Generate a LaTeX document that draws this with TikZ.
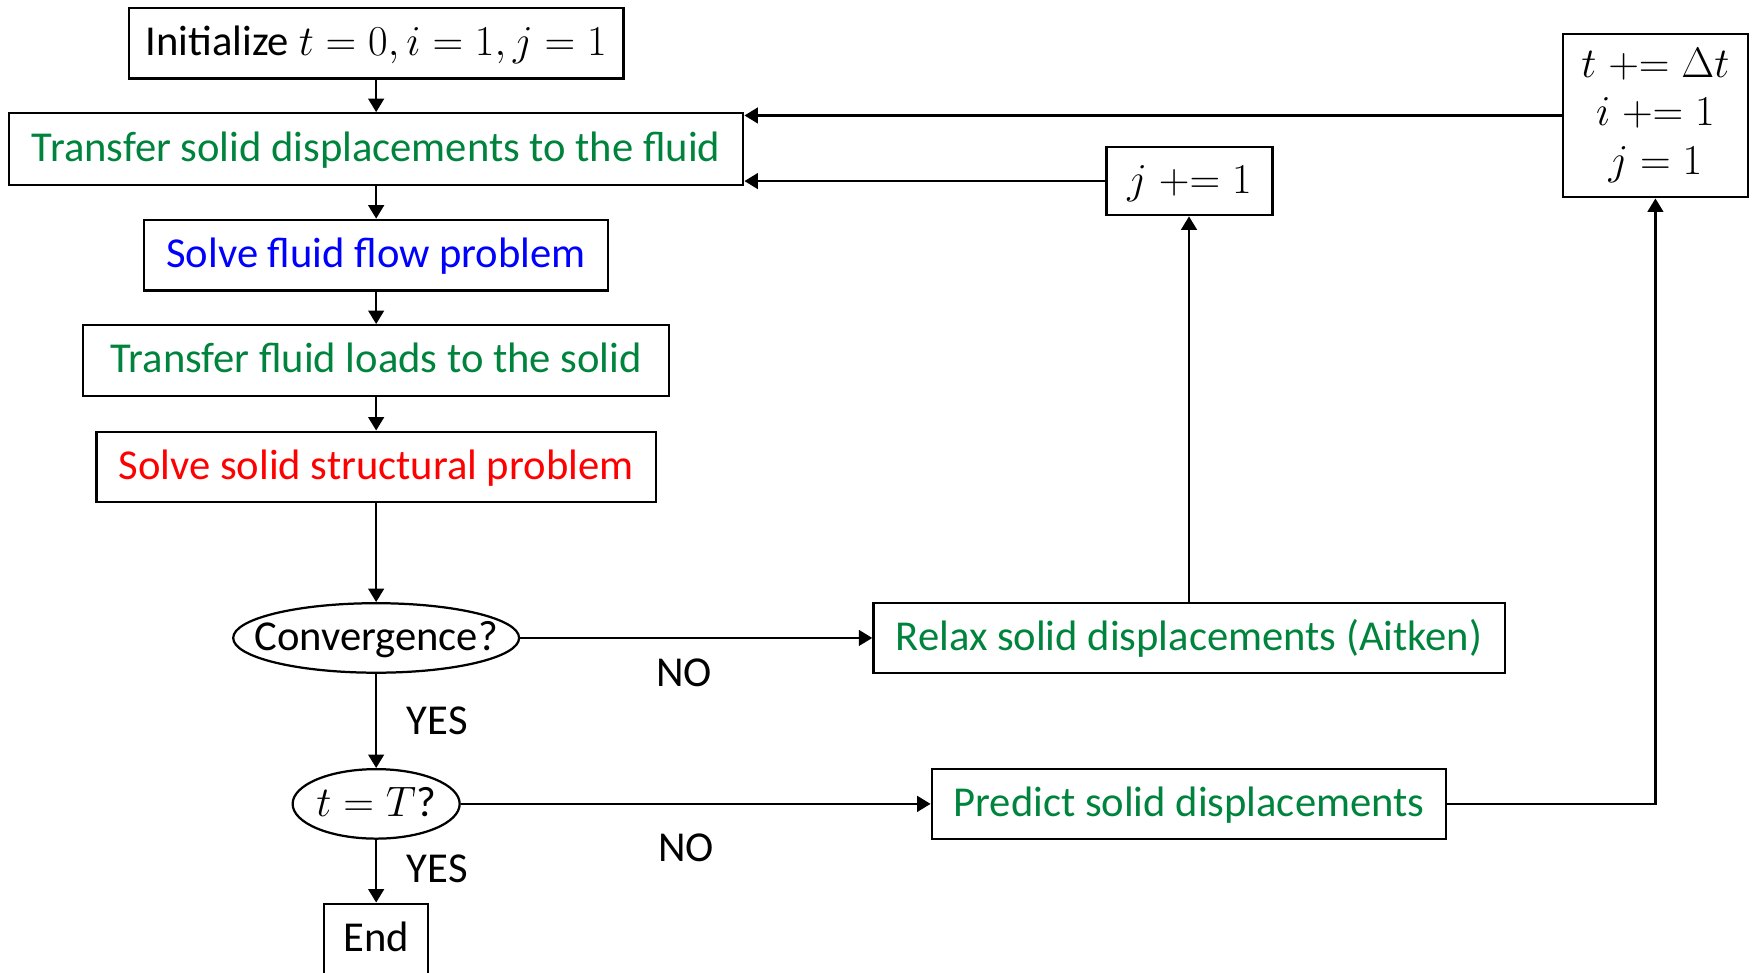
\documentclass[tikz,border=0pt]{standalone}
\usepackage{fix-cm}
\usepackage{fontspec}
\setmainfont{Carlito}
\usetikzlibrary{shapes.geometric,arrows.meta}
\definecolor{mygreen}{RGB}{0,132,61}
\begin{document}
\begin{tikzpicture}[x=1pt,y=-1pt,
  font=\fontsize{38}{43}\selectfont,
  box/.style={draw, line width=2pt, inner sep=0pt, minimum height=63pt, align=center},
  tx/.style={text height=28pt, text depth=6pt},
  oval/.style={draw, ellipse, line width=2pt, inner sep=0pt, minimum height=62pt},
  arr/.style={-{Triangle[length=12pt,width=14pt]}, line width=2pt},
  lab/.style={inner sep=0pt}]
\useasboundingbox (0,0) rectangle (1568,867);
\node[box, tx, minimum width=441pt] (init) at (335.5,38.5) {Initialize $t=0,i=1,j=1$};
\node[box, tx, minimum width=655pt, minimum height=64pt, text=mygreen] (trans) at (335.5,133) {Transfer solid displacements to the fluid};
\node[box, tx, minimum width=414pt, text=blue] (fluid) at (335.5,227.5) {Solve fluid flow problem};
\node[box, tx, minimum width=523pt, text=mygreen] (loads) at (335.5,321.5) {Transfer fluid loads to the solid};
\node[box, tx, minimum width=499pt, text=red] (solid) at (335.5,416.5) {Solve solid structural problem};
\node[oval, minimum width=255pt] (conv) at (335.5,569) {};
\node[lab, tx] (convt) at (conv.center) {Convergence?};
\node[oval, minimum width=149pt] (tT) at (335.5,717) {};
\node[lab, tx] (tTt) at (tT.center) {$t=T$?};
\node[box, tx, minimum width=93pt, minimum height=64pt] (end) at (335.5,838) {End};
\node[box, tx, minimum width=563pt, minimum height=62pt, text=mygreen] (relax) at (1060.5,569) {Relax solid displacements (Aitken)};
\node[box, tx, minimum width=459pt, minimum height=62pt, text=mygreen] (pred) at (1060.5,717) {Predict solid displacements};
\node[box, tx, minimum width=148pt, minimum height=61pt] (jbox) at (1061,161.5) {$j \mathrel{+}= 1$};
\node[box, minimum width=165pt, minimum height=146pt] (tbox) at (1476.5,103) {$t \mathrel{+}= \Delta t$\\ $i \mathrel{+}= 1$\\ $j = 1$};
\node[lab, tx] (no1) at (610,601) {NO};
\node[lab, tx] (yes1) at (390,644) {YES};
\node[lab, tx] (no2) at (612,757) {NO};
\node[lab, tx] (yes2) at (390,776) {YES};
\draw[arr] (init) -- (trans);
\draw[arr] (trans) -- (fluid);
\draw[arr] (fluid) -- (loads);
\draw[arr] (loads) -- (solid);
\draw[arr] (solid) -- (conv);
\draw[arr] (conv) -- (tT);
\draw[arr] (tT) -- (end);
\draw[arr] (conv) -- (relax);
\draw[arr] (tT) -- (pred);
\draw[arr] (relax.north) -- (relax.north |- jbox.south);
\draw[arr] (jbox.west) -- (jbox.west -| trans.east);
\draw[arr] (pred.east) -| (tbox.south);
\draw[arr] (tbox.west) -- (tbox.west -| trans.east);
\end{tikzpicture}
\end{document}
